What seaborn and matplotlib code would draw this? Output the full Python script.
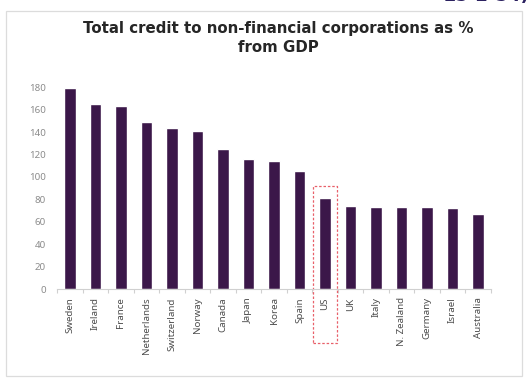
import numpy as np
import pandas as pd
import matplotlib
matplotlib.use("Agg")
import matplotlib.pyplot as plt
from matplotlib.patches import Rectangle
import seaborn as sns

countries = ["Sweden", "Ireland", "France", "Netherlands", "Switzerland", "Norway",
             "Canada", "Japan", "Korea", "Spain", "US", "UK", "Italy", "N. Zealand",
             "Germany", "Israel", "Australia"]
credit_pct_gdp = [179, 165, 163, 149, 144, 141, 125, 116, 114, 105, 81, 74, 73, 73, 73, 72, 67]
y_ticks = [0, 20, 40, 60, 80, 100, 120, 140, 160, 180]
highlight = "US"

sns.set_theme(style="white")
plt.rcParams["font.family"] = ["Noto Sans", "DejaVu Sans"]

df = pd.DataFrame({"country": countries, "value": credit_pct_gdp})

fig = plt.figure(figsize=(5.30, 3.83), dpi=100)
ax = fig.add_axes([0.108, 0.2454, 0.818, 0.527])

sns.barplot(data=df, x="country", y="value", color="#3b1749", width=0.44,
            saturation=1, ax=ax)

ax.set_ylim(0, 180)
ax.set_xlim(-0.5, len(countries) - 0.5)
ax.set_yticks(y_ticks)
ax.set_yticklabels([str(t) for t in y_ticks], fontsize=7, color="#8c8c8c")
ax.set_xlabel("")
ax.set_ylabel("")
ax.set_xticks(range(len(countries)))
ax.set_xticklabels(countries, rotation=90, fontsize=7, color="#4d4d4d")
ax.tick_params(axis="x", length=0, pad=6)
ax.tick_params(axis="y", length=0, pad=8)
# tick marks between categories on the category axis
ax.set_xticks(np.arange(-0.5, len(countries), 1), minor=True)
ax.tick_params(axis="x", which="minor", length=3, color="#d0d0d0", width=0.8, bottom=True)

for side in ["top", "right", "left"]:
    ax.spines[side].set_visible(False)
ax.spines["bottom"].set_color("#d0d0d0")
ax.spines["bottom"].set_linewidth(0.8)

# dashed box around the highlighted country, bar and label
i = countries.index(highlight)
box = Rectangle((i - 0.48, -48), 0.96, credit_pct_gdp[i] + 59,
                transform=ax.transData, fill=False, edgecolor="#e8606a",
                linestyle=(0, (2, 1.5)), linewidth=0.9, clip_on=False)
ax.add_patch(box)

# slide frame
fig.patches.append(Rectangle((6 / 530, 1 - 376 / 383), 516 / 530, 365 / 383,
                             transform=fig.transFigure, fill=False,
                             edgecolor="#dcdcdc", linewidth=0.9))

title_font = dict(family="DejaVu Sans", fontsize=10.8, fontweight="bold", color="#262626")
fig.text(0.525, 1 - 28 / 383, "Total credit to non-financial corporations as %",
         ha="center", va="center", **title_font)
fig.text(0.525, 1 - 48 / 383, "from GDP", ha="center", va="center", **title_font)

# slide number partly cut off at the top edge
fig.text(0.998, 1 + 4 / 383, "25-2-54)", ha="right", va="center", fontsize=13,
         family="DejaVu Sans", fontweight="bold", color="#2b2160")

fig.savefig("out.png", dpi=100)
